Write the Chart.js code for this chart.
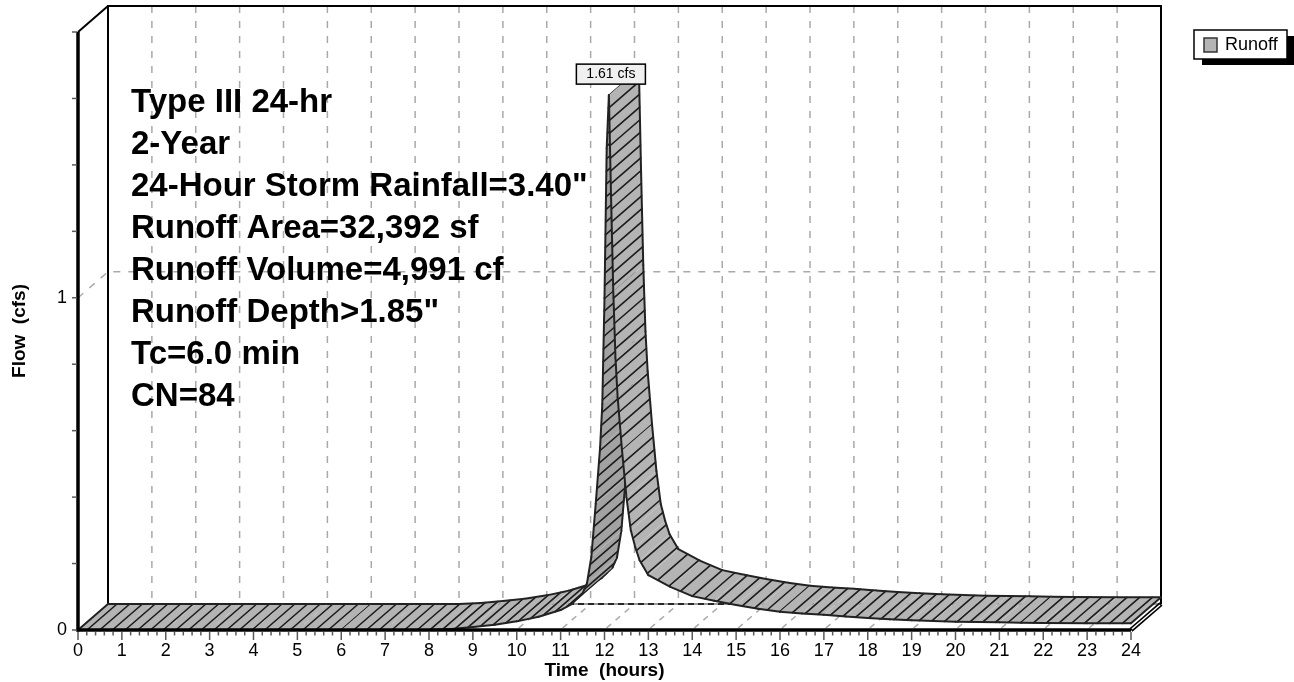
<!DOCTYPE html>
<html>
<head>
<meta charset="utf-8">
<title>Runoff hydrograph</title>
<script src="https://cdn.jsdelivr.net/npm/chart.js@4.4.0/dist/chart.umd.min.js"></script>
<style>
  html, body { margin: 0; padding: 0; background: #ffffff; }
  canvas { display: block; }
</style>
</head>
<body>
<canvas id="hydrograph" width="1294" height="682"></canvas>
<script>
// Runoff hydrograph, time in hours and flow in cfs
const hours = [0, 1, 2, 3, 4, 5, 6, 7, 8, 8.5, 9, 9.5, 10, 10.5, 11, 11.25, 11.5, 11.6, 11.7, 11.8, 11.9, 11.95,
  12, 12.05, 12.1, 12.15, 12.2, 12.25, 12.3, 12.4, 12.5, 12.6, 12.7, 12.8,
  13, 13.5, 14, 14.5, 15, 15.5, 16, 16.5, 17, 17.5, 18, 18.5, 19, 19.5, 20, 20.5, 21, 21.5, 22, 23, 24];
const flows = [0, 0, 0, 0, 0, 0, 0, 0, 0, 0.003, 0.009, 0.016, 0.026, 0.040, 0.060, 0.078, 0.11, 0.14, 0.22, 0.38, 0.55, 0.68,
  1.00, 1.45, 1.61, 1.30, 1.02, 0.82, 0.70, 0.54, 0.40, 0.30, 0.25, 0.21,
  0.165, 0.13, 0.102, 0.088, 0.075, 0.064, 0.055, 0.050, 0.046, 0.041, 0.036, 0.032, 0.029, 0.027, 0.025, 0.024, 0.023, 0.022, 0.021, 0.020, 0.020];

// Axis tick labels
const timeTicks = [0, 1, 2, 3, 4, 5, 6, 7, 8, 9, 10, 11, 12, 13, 14, 15, 16, 17, 18, 19, 20, 21, 22, 23, 24];
const flowTicks = [0, 1];
const flowGridLines = [1];

// Storm summary text
const infoLines = [
  'Type III 24-hr',
  '2-Year',
  '24-Hour Storm Rainfall=3.40"',
  'Runoff Area=32,392 sf',
  'Runoff Volume=4,991 cf',
  'Runoff Depth>1.85"',
  'Tc=6.0 min',
  'CN=84'
];
const seriesName = 'Runoff';
const flowUnits = 'cfs';

// Drawing style
const FONT = "'Liberation Sans', Arial, Helvetica, sans-serif";
const DEPTH = { dx: 30, dy: -26 };          // oblique offset of the back wall
const RIBBON_FILL = '#b4b4b4';
const RIBBON_FILL_UNDER = '#a2a2a2';
const HATCH_STEP = 12.7;
const GRID_GREY = '#a9a9a9';

const points = hours.map((h, i) => ({ x: h, y: flows[i] }));

function line(ctx, x1, y1, x2, y2) {
  ctx.beginPath();
  ctx.moveTo(x1, y1);
  ctx.lineTo(x2, y2);
  ctx.stroke();
}

// Back/left walls, floor and grid of the 3-D box
const boxPlugin = {
  id: 'box3d',
  beforeDatasetsDraw(chart) {
    const { ctx, chartArea: a, scales: { x, y } } = chart;
    const { dx, dy } = DEPTH;
    const L = a.left, R = a.right, T = a.top, B = a.bottom;
    ctx.save();
    ctx.lineCap = 'butt';

    // dashed grid on back wall and floor
    ctx.strokeStyle = GRID_GREY;
    ctx.lineWidth = 1.5;
    ctx.setLineDash([7, 8]);
    for (const h of timeTicks) {
      if (h === timeTicks[0] || h === timeTicks[timeTicks.length - 1]) continue;
      const X = x.getPixelForValue(h);
      line(ctx, X + dx, T + dy, X + dx, B + dy);
    }
    for (const v of flowGridLines) {
      const Y = y.getPixelForValue(v);
      ctx.beginPath();
      ctx.moveTo(L, Y);
      ctx.lineTo(L + dx, Y + dy);
      ctx.lineTo(R + dx, Y + dy);
      ctx.stroke();
    }
    ctx.setLineDash([6, 6]);
    for (const h of timeTicks) {
      if (h === timeTicks[0]) continue;
      const X = x.getPixelForValue(h);
      line(ctx, X + 2, B - 2, X + dx, B + dy);
    }

    // back edge of the floor
    ctx.setLineDash([]);
    ctx.strokeStyle = '#9a9a9a';
    ctx.lineWidth = 2;
    line(ctx, L + dx, B + dy, R + dx, B + dy);
    ctx.strokeStyle = '#000';
    ctx.lineWidth = 1.5;
    ctx.setLineDash([6, 4]);
    line(ctx, L + dx, B + dy, R + dx, B + dy);
    ctx.setLineDash([]);

    // wall outlines
    ctx.strokeStyle = '#000';
    ctx.lineWidth = 2;
    ctx.beginPath();
    ctx.moveTo(L + dx, B + dy);
    ctx.lineTo(L + dx, T + dy);
    ctx.lineTo(R + dx, T + dy);
    ctx.lineTo(R + dx, B + dy);
    ctx.stroke();
    line(ctx, L, T, L + dx, T + dy);

    // right end of the floor slab
    ctx.lineWidth = 4.5;
    line(ctx, R, B, R + dx, B + dy);
    ctx.strokeStyle = '#fff';
    ctx.lineWidth = 1.5;
    line(ctx, R + 1, B - 1, R + dx - 1, B + dy + 1);
    ctx.restore();
  },

  afterDatasetsDraw(chart) {
    const { ctx, chartArea: a, scales: { x, y } } = chart;
    const { dx, dy } = DEPTH;
    const pts = chart.getDatasetMeta(0).data.map(p => ({ x: p.x, y: p.y }));
    ctx.save();
    ctx.lineJoin = 'round';
    ctx.lineCap = 'round';

    // ribbon: one quad per time step, front edge = series, back edge offset in depth
    let travelled = 0;
    let nextHatch = 9;
    for (let i = 0; i < pts.length - 1; i++) {
      const f0 = pts[i], f1 = pts[i + 1];
      const b0 = { x: f0.x + dx, y: f0.y + dy };
      const b1 = { x: f1.x + dx, y: f1.y + dy };
      const sx = f1.x - f0.x, sy = f1.y - f0.y;
      const facing = sx * dy - sy * dx;
      ctx.fillStyle = facing < 0 ? RIBBON_FILL : RIBBON_FILL_UNDER;
      ctx.beginPath();
      ctx.moveTo(f0.x, f0.y);
      ctx.lineTo(f1.x, f1.y);
      ctx.lineTo(b1.x, b1.y);
      ctx.lineTo(b0.x, b0.y);
      ctx.closePath();
      ctx.fill();

      const len = Math.hypot(sx, sy);
      ctx.strokeStyle = '#1c1c1c';
      ctx.lineWidth = 1.6;
      while (nextHatch <= travelled + len) {
        const t = (nextHatch - travelled) / len;
        const px = f0.x + sx * t, py = f0.y + sy * t;
        line(ctx, px, py, px + dx, py + dy);
        nextHatch += HATCH_STEP;
      }
      travelled += len;

      ctx.strokeStyle = '#222';
      ctx.lineWidth = 2;
      line(ctx, f0.x, f0.y, f1.x, f1.y);
      line(ctx, b0.x, b0.y, b1.x, b1.y);
    }
    const first = pts[0], last = pts[pts.length - 1];
    ctx.strokeStyle = '#222';
    ctx.lineWidth = 2;
    line(ctx, first.x, first.y, first.x + dx, first.y + dy);
    line(ctx, last.x, last.y, last.x + dx, last.y + dy);

    // front axes
    const L = a.left, R = a.right, T = a.top, B = a.bottom;
    ctx.lineCap = 'butt';
    ctx.strokeStyle = '#000';
    ctx.lineWidth = 3.5;
    line(ctx, L, T, L, B + 1.5);
    line(ctx, L - 1.5, B, R, B);

    // tick marks
    ctx.strokeStyle = '#5a5a5a';
    ctx.lineWidth = 1.5;
    for (let k = 0; k <= 9; k++) {
      const Y = y.getPixelForValue(k * 0.2);
      line(ctx, L - 6, Y, L - 1, Y);
    }
    for (let k = 0; k <= 120; k++) {
      const X = x.getPixelForValue(k * 0.2);
      line(ctx, X, B + 2, X, B + (k % 5 === 0 ? 10 : 5.5));
    }
    ctx.restore();
  },

  afterDraw(chart) {
    const { ctx, chartArea: a } = chart;
    const meta = chart.getDatasetMeta(0).data;
    ctx.save();

    // storm summary
    ctx.fillStyle = '#000';
    ctx.font = `bold 33px ${FONT}`;
    ctx.textAlign = 'left';
    ctx.textBaseline = 'alphabetic';
    infoLines.forEach((txt, i) => ctx.fillText(txt, a.left + 53, a.top + 80 + i * 42));

    // peak label
    let peak = 0;
    flows.forEach((v, i) => { if (v > flows[peak]) peak = i; });
    const pp = meta[peak];
    const label = `${flows[peak].toFixed(2)} ${flowUnits}`;
    ctx.font = `14px ${FONT}`;
    const w = ctx.measureText(label).width + 20;
    const bx = pp.x + 2 - w / 2, by = pp.y - 31;
    ctx.fillStyle = '#f0f0f0';
    ctx.fillRect(bx, by, w, 20);
    ctx.strokeStyle = '#000';
    ctx.lineWidth = 1.5;
    ctx.strokeRect(bx, by, w, 20);
    ctx.fillStyle = '#000';
    ctx.textAlign = 'center';
    ctx.textBaseline = 'middle';
    ctx.fillText(label, pp.x + 2, by + 10.5);

    // legend
    const lx = 1194, ly = 30, lw = 93, lh = 29;
    ctx.fillStyle = '#000';
    ctx.fillRect(lx + 8, ly + 6, lw - 1, lh);
    ctx.fillStyle = '#fff';
    ctx.fillRect(lx, ly, lw, lh);
    ctx.strokeStyle = '#000';
    ctx.lineWidth = 1.5;
    ctx.strokeRect(lx, ly, lw, lh);
    ctx.fillStyle = RIBBON_FILL;
    ctx.fillRect(lx + 10, ly + 8, 13, 14);
    ctx.strokeStyle = '#333';
    ctx.strokeRect(lx + 10, ly + 8, 13, 14);
    ctx.fillStyle = '#000';
    ctx.font = `18px ${FONT}`;
    ctx.textAlign = 'left';
    ctx.textBaseline = 'middle';
    ctx.fillText(seriesName, lx + 31, ly + 15.5);
    ctx.restore();
  }
};

function zeroPadding(scale) {
  scale.paddingLeft = 0;
  scale.paddingRight = 0;
  scale.paddingTop = 0;
  scale.paddingBottom = 0;
}

new Chart(document.getElementById('hydrograph'), {
  type: 'line',
  data: {
    datasets: [{
      label: seriesName,
      data: points,
      showLine: false,
      borderWidth: 0,
      pointRadius: 0,
      backgroundColor: RIBBON_FILL
    }]
  },
  options: {
    responsive: false,
    animation: false,
    devicePixelRatio: 1,
    layout: { padding: { top: 32, right: 163, left: 0, bottom: 0 } },
    plugins: { legend: { display: false }, tooltip: { enabled: false } },
    scales: {
      x: {
        type: 'linear',
        min: 0,
        max: 24,
        afterBuildTicks: s => { s.ticks = timeTicks.map(v => ({ value: v })); },
        afterFit: s => { s.height = 52; zeroPadding(s); },
        grid: { display: false, drawTicks: false },
        border: { display: false },
        ticks: { font: { family: FONT, size: 18 }, color: '#000', padding: 10, maxRotation: 0, autoSkip: false },
        title: { display: true, text: 'Time  (hours)', color: '#000',
                 font: { family: FONT, size: 19, weight: 'bold' }, padding: { top: 0, bottom: 0 } }
      },
      y: {
        type: 'linear',
        min: 0,
        max: 1.8,
        afterBuildTicks: s => { s.ticks = flowTicks.map(v => ({ value: v })); },
        afterFit: s => { s.width = 78; zeroPadding(s); },
        grid: { display: false, drawTicks: false },
        border: { display: false },
        ticks: { font: { family: FONT, size: 18 }, color: '#000', padding: 11 },
        title: { display: true, text: 'Flow  (cfs)', color: '#000',
                 font: { family: FONT, size: 19, weight: 'bold' }, padding: { top: 8, bottom: 0 } }
      }
    }
  },
  plugins: [boxPlugin]
});
</script>
</body>
</html>
